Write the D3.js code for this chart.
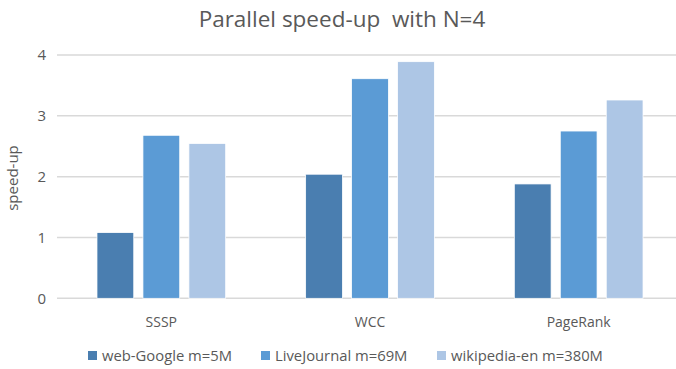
<!DOCTYPE html>
<html><head><meta charset="utf-8">
<script src="https://cdn.jsdelivr.net/npm/d3@7"></script>
<style>
html,body{margin:0;padding:0;background:#fff;}
text{font-family:"Open Sans","Liberation Sans",sans-serif;}
</style></head>
<body><svg id="chart" width="676" height="369"></svg>
<script>
const categories = ["SSSP", "WCC", "PageRank"];
const seriesNames = ["web-Google m=5M", "LiveJournal m=69M", "wikipedia-en m=380M"];
const webGoogle = [1.08, 2.04, 1.88];
const liveJournal = [2.68, 3.61, 2.75];
const wikipedia = [2.545, 3.89, 3.26];
const yTicks = [0, 1, 2, 3, 4];
const colors = ["#4a7eb0", "#5b9bd5", "#adc6e5"];
const title = "Parallel speed-up  with N=4";
const yLabel = "speed-up";

const series = [webGoogle, liveJournal, wikipedia];
const svg = d3.select("#chart");
const plot = {left: 57, right: 683, top: 55, bottom: 298.3};

const x0 = d3.scaleBand().domain(categories).range([plot.left, plot.right]).paddingInner(0).paddingOuter(0);
const x1 = d3.scaleBand().domain(d3.range(series.length)).range([0, 128.7]).paddingInner(0.2).paddingOuter(0);
const y = d3.scaleLinear().domain([0, 4]).range([plot.bottom, plot.top]);

// gridlines
svg.append("g").selectAll("line").data(yTicks).join("line")
  .attr("x1", plot.left).attr("x2", plot.right)
  .attr("y1", d => y(d)).attr("y2", d => y(d))
  .attr("stroke", "#d9d9d9").attr("stroke-width", 1.5);

// y tick labels
svg.append("g").selectAll("text").data(yTicks).join("text")
  .attr("x", 46).attr("y", d => y(d)).attr("dy", "0.35em")
  .attr("text-anchor", "end").attr("font-size", 15).attr("fill", "#595959")
  .text(d => d);

// bars
const groupOffset = (x0.bandwidth() - 128.7) / 2;
const g = svg.append("g");
categories.forEach((c, ci) => {
  series.forEach((s, si) => {
    g.append("rect")
      .attr("x", x0(c) + groupOffset + x1(si))
      .attr("width", x1.bandwidth())
      .attr("y", y(s[ci]))
      .attr("height", y(0) - y(s[ci]))
      .attr("fill", colors[si])
      .attr("stroke", "#fff").attr("stroke-width", 0.75);
  });
});

// category labels
svg.append("g").selectAll("text").data(categories).join("text")
  .attr("x", d => x0(d) + x0.bandwidth() / 2).attr("y", 327)
  .attr("text-anchor", "middle").attr("font-size", 14).attr("fill", "#595959")
  .text(d => d);

// title
svg.append("text").attr("x", 342).attr("y", 27)
  .attr("text-anchor", "middle").attr("font-size", 22.5).attr("fill", "#595959")
  .style("white-space", "pre")
  .text(title);

// y label
svg.append("text").attr("transform", "translate(18,178) rotate(-90)")
  .attr("text-anchor", "middle").attr("font-size", 15).attr("fill", "#595959")
  .text(yLabel);

// legend
const legendX = [88, 261, 437];
const lg = svg.append("g").selectAll("g").data(seriesNames).join("g")
  .attr("transform", (d, i) => `translate(${legendX[i]},351)`);
lg.append("rect").attr("width", 9).attr("height", 9).attr("fill", (d, i) => colors[i]);
lg.append("text").attr("x", 14).attr("y", 4.5).attr("dy", "0.35em")
  .attr("font-size", 14.8).attr("fill", "#595959").text(d => d);
</script></body></html>
